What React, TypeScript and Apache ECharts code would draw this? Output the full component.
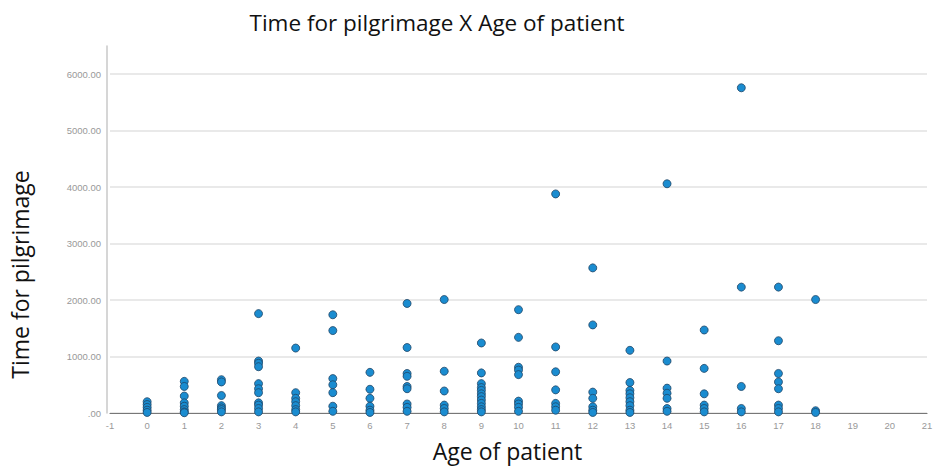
import React, { useEffect, useRef } from "react";
import * as echarts from "echarts";

const ages: number[] = [0, 1, 2, 3, 4, 5, 6, 7, 8, 9, 10, 11, 12, 13, 14, 15, 16, 17, 18];
const timesByAge: number[][] = [
  [200, 150, 100, 50, 10],
  [560, 470, 300, 180, 120, 60, 20, 5],
  [590, 550, 310, 130, 90, 60, 20],
  [1760, 920, 880, 820, 520, 430, 360, 180, 140, 80, 20],
  [1150, 360, 260, 200, 130, 60, 20],
  [1740, 1460, 610, 500, 360, 120, 30],
  [720, 420, 260, 120, 50, 10],
  [1940, 1160, 700, 650, 470, 430, 160, 100, 30],
  [2010, 740, 390, 140, 80, 20],
  [1240, 710, 520, 450, 400, 340, 290, 230, 170, 110, 60, 20],
  [1830, 1340, 810, 760, 680, 210, 160, 100, 30],
  [3880, 1170, 730, 410, 170, 110, 50],
  [2570, 1560, 370, 260, 110, 50, 10],
  [1110, 540, 400, 340, 270, 200, 130, 50, 10],
  [4060, 920, 440, 350, 260, 80, 30],
  [1470, 790, 340, 140, 80, 20],
  [5760, 2230, 470, 80, 20],
  [2230, 1280, 700, 550, 430, 140, 80, 20],
  [2010, 40, 10],
];

const titleText = "Time for pilgrimage X Age of patient";
const xName = "Age of patient";
const yName = "Time for pilgrimage";

export default function App() {
  const ref = useRef<HTMLDivElement>(null);
  useEffect(() => {
    if (!ref.current) return;
    const chart = echarts.init(ref.current, undefined, { renderer: "svg" });
    const data: number[][] = [];
    ages.forEach((a, i) => timesByAge[i].forEach((t) => data.push([a, t])));
    chart.setOption({
      animation: false,
      backgroundColor: "#ffffff",
      textStyle: { fontFamily: "Open Sans" },
      title: {
        text: titleText,
        left: 432,
        top: 6,
        textAlign: "center",
        textStyle: { fontSize: 22.5, fontWeight: "normal", color: "#111", fontFamily: "Open Sans" },
      },
      grid: { left: 103, right: 11, top: 46, bottom: 56 },
      xAxis: {
        type: "value",
        min: -1,
        max: 21,
        interval: 1,
        name: xName,
        nameLocation: "middle",
        nameGap: 26,
        nameTextStyle: { fontSize: 23, color: "#111", padding: [0, 22, 0, 0], fontFamily: "Open Sans" },
        axisLine: { show: true, onZero: false, lineStyle: { color: "#777", width: 1.2 } },
        axisTick: { show: false },
        splitLine: { show: false },
        axisLabel: { fontSize: 9.5, color: "#999999", margin: 7, fontFamily: "Arial" },
      },
      yAxis: {
        type: "value",
        min: 0,
        max: 6500,
        interval: 500,
        offset: 3,
        name: yName,
        nameLocation: "middle",
        nameRotate: 90,
        nameGap: 76,
        nameTextStyle: { fontSize: 23, color: "#111", padding: [0, 90, 0, 0], fontFamily: "Open Sans" },
        axisLine: { show: true, onZero: false, lineStyle: { color: "#c8c8c8", width: 1.5 } },
        axisTick: { show: false },
        splitLine: { show: true, lineStyle: { color: ["#e2e2e2", "transparent"], width: 1.5 } },
        axisLabel: {
          fontSize: 9.5,
          color: "#999999",
          margin: 6,
          fontFamily: "Arial",
          formatter: (v: number) => (v % 1000 !== 0 ? "" : v === 0 ? ".00" : v.toFixed(2)),
        },
      },
      series: [
        {
          type: "scatter",
          data,
          symbolSize: 8,
          itemStyle: { color: "#1a8cd0", borderColor: "#1f4566", borderWidth: 0.8, opacity: 1 },
        },
      ],
    });
    return () => chart.dispose();
  }, []);
  return <div ref={ref} style={{ width: 938, height: 469, position: "fixed", left: 0, top: 0 }} />;
}
